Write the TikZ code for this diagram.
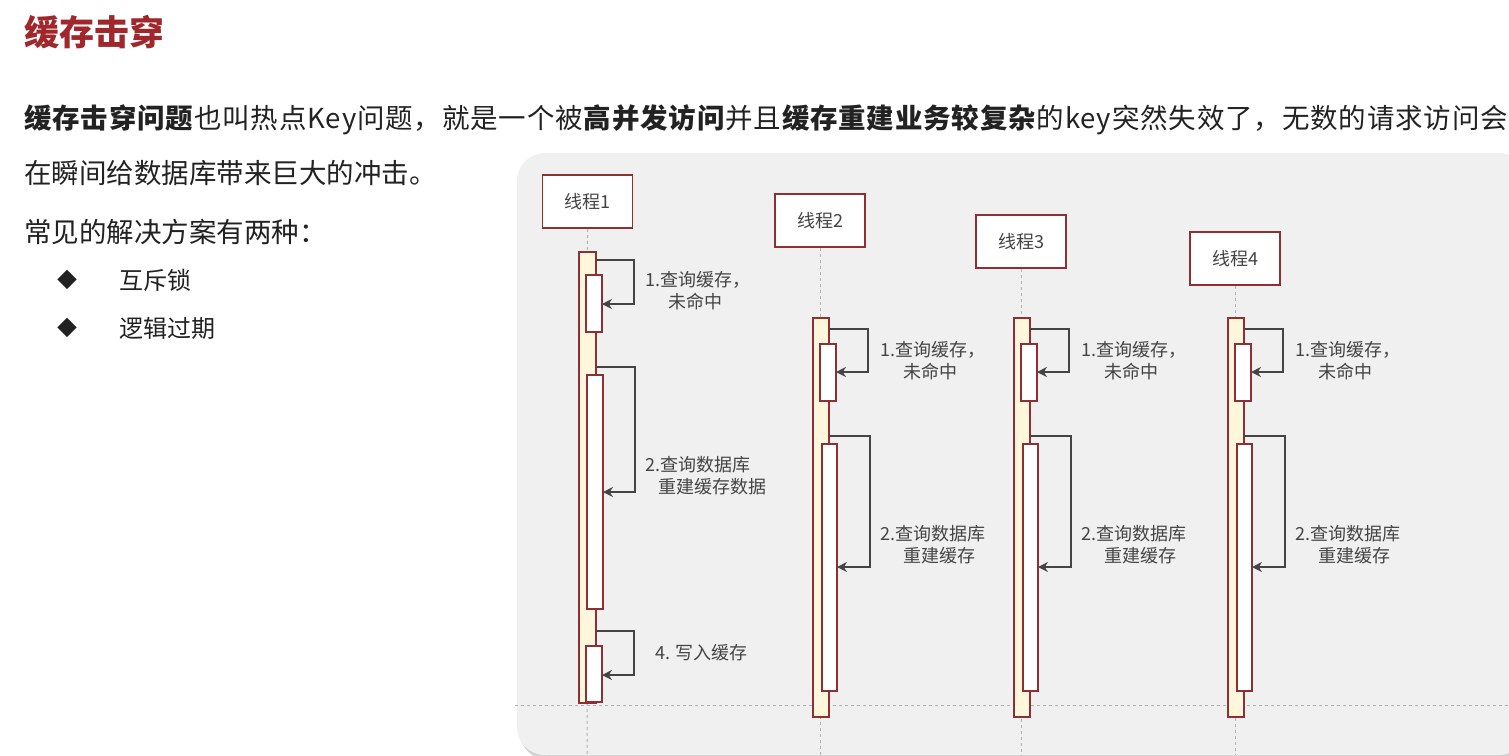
\documentclass[tikz,border=0pt]{standalone}
\usepackage{fontspec}
\usetikzlibrary{arrows.meta}
\setmainfont{Noto Sans CJK SC}
\newfontfamily\cjk{Noto Sans CJK SC}
\newfontfamily\cjkwide[LetterSpace=3]{Noto Sans CJK SC}
\definecolor{dred}{HTML}{8E2F33}
\definecolor{ttl}{HTML}{A0282C}
\definecolor{act}{HTML}{FFF6DC}
\definecolor{panel}{HTML}{F0F0F0}
\definecolor{arr}{HTML}{444444}
\definecolor{txt}{HTML}{222222}
\definecolor{lbl}{HTML}{444444}
\begin{document}
\begin{tikzpicture}[x=1pt,y=-1pt,
  thr/.style={draw=dred,line width=1.6pt,fill=white,minimum width=90pt,minimum height=53pt,font=\fontsize{18}{18}\selectfont,text=lbl},
  actm/.style={draw=dred,line width=1.3pt,fill=act},
  acts/.style={draw=dred,line width=1.3pt,fill=white},
  life/.style={dashed,gray!60,line width=1pt},
  loop/.style={arr,line width=1.3pt,-{Stealth[length=10pt,width=10pt]}},
  lab/.style={anchor=north west,font=\fontsize{18}{22}\selectfont,text=lbl,align=left,inner sep=0pt},
  body/.style={anchor=west,inner sep=0pt,font=\fontsize{27.5}{27.5}\selectfont,text=txt}]
\useasboundingbox (0,0) rectangle (1509,755);
\fill[white] (0,0) rectangle (1509,755);
% panel
\fill[gray!35,rounded corners=28pt] (520,157) rectangle (1530,760);
\fill[panel,rounded corners=28pt] (517,153) rectangle (1527,755);
\draw[dashed,gray!60,line width=0.8pt] (515,705) -- (1509,705);
% texts
\node[anchor=west,inner sep=0pt,font=\fontsize{35}{35}\selectfont\bfseries,text=ttl] (title) at (24,32) {缓存击穿};
\node[body] (p1) at (24,120) {\cjkwide\textbf{缓存击穿问题}也叫热点Key问题，就是一个被\textbf{高并发访问}并且\textbf{缓存重建业务较复杂}的key突然失效了，无数的请求访问会};
\node[body] (p2) at (24,173) {在瞬间给数据库带来巨大的冲击。};
\node[body] (p3) at (24,232) {常见的解决方案有两种：};
\node[anchor=center,inner sep=0pt,font=\fontsize{20}{20}\selectfont,text=txt] (b1) at (67,280) {◆};
\node[anchor=center,inner sep=0pt,font=\fontsize{20}{20}\selectfont,text=txt] (b2) at (67,328) {◆};
\node[body,font=\fontsize{24}{24}\selectfont] (l1) at (119,280) {互斥锁};
\node[body,font=\fontsize{24}{24}\selectfont] (l2) at (119,328) {逻辑过期};
% thread 1
\node[thr] (t1) at (587.5,201.5) {线程1};
\coordinate (e1) at (587,755);
\draw[life] (t1.south) -- (e1);
\draw[actm] (579,252) rectangle (596,703);
\draw[acts] (586,275) rectangle (602,332);
\draw[acts] (587,375) rectangle (603,609);
\draw[acts] (586,646) rectangle (602,702);
\draw[loop] (596,260) -- (634,260) -- (634,304) -- (602,304);
\draw[loop] (596,367) -- (635,367) -- (635,492) -- (603,492);
\draw[loop] (596,631) -- (634,631) -- (634,675) -- (602,675);
\node[lab] (a1) at (645,271) {1.查询缓存，\\\hspace*{23pt}未命中};
\node[lab] (a2) at (645,456) {2.查询数据库\\\hspace*{13pt}重建缓存数据};
\node[lab] (a3) at (655,644) {4. 写入缓存};
% threads 2-4
\foreach \n/\cx/\by/\mx/\lx in {2/820/220.5/813/880, 3/1021/241.5/1014/1081, 4/1235/258.5/1228/1295}{
  \node[thr] (t\n) at (\cx,\by) {线程\n};
  \coordinate (e\n) at (\cx,755);
  \draw[life] (t\n.south) -- (e\n);
  \draw[actm] (\mx,318) rectangle ({\mx+16},717);
  \draw[acts] ({\mx+7},344) rectangle ({\mx+23},401);
  \draw[acts] ({\mx+9},444) rectangle ({\mx+24},691);
  \draw[loop] ({\mx+16},329) -- ({\mx+55},329) -- ({\mx+55},372) -- ({\mx+23},372);
  \draw[loop] ({\mx+16},436) -- ({\mx+57},436) -- ({\mx+57},567) -- ({\mx+24},567);
  \node[lab] (u\n) at (\lx,341) {1.查询缓存，\\\hspace*{23pt}未命中};
  \node[lab] (v\n) at (\lx,525) {2.查询数据库\\\hspace*{23pt}重建缓存};
}
\end{tikzpicture}
\end{document}
